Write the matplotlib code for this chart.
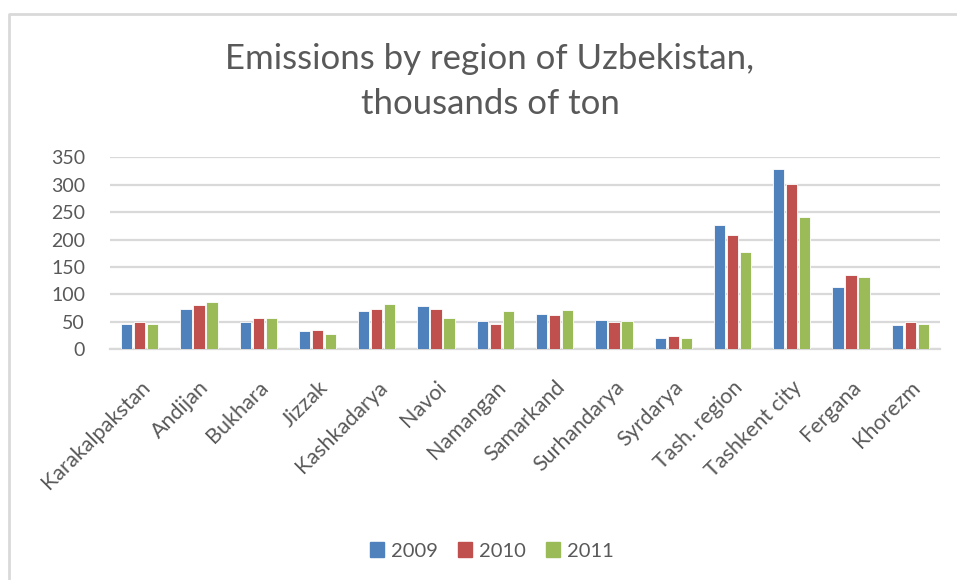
import numpy as np
import matplotlib
matplotlib.use("Agg")
import matplotlib.pyplot as plt
from matplotlib.lines import Line2D

regions = ["Karakalpakstan", "Andijan", "Bukhara", "Jizzak", "Kashkadarya",
           "Navoi", "Namangan", "Samarkand", "Surhandarya", "Syrdarya",
           "Tash. region", "Tashkent city", "Fergana", "Khorezm"]
y2009 = [47, 73, 50, 33, 69, 79, 52, 65, 54, 21, 226, 329, 113, 45]
y2010 = [49, 80, 57, 36, 74, 74, 47, 63, 49, 24, 209, 302, 136, 50]
y2011 = [47, 86, 57, 27, 82, 57, 69, 72, 52, 21, 177, 242, 131, 46]
years = ["2009", "2010", "2011"]
colors = ["#4F81BD", "#C0504D", "#9BBB59"]

txt = "#595959"
grid = "#D9D9D9"
plt.rcParams['font.family'] = ['Lato', 'DejaVu Sans']

fig = plt.figure(figsize=(9.57, 5.8), dpi=100)
ax = fig.add_axes([110/957, 1-349.3/580, 830/957, 192/580])

x = np.arange(len(regions))
w = 0.19
step = 0.22
for i, (vals, c) in enumerate(zip([y2009, y2010, y2011], colors)):
    ax.bar(x + (i-1)*step, vals, width=w, color=c, edgecolor="white",
           linewidth=0.6, zorder=3)

ax.set_xlim(-0.5, len(regions)-0.5)
ax.set_ylim(0, 350)
ax.set_yticks(range(0, 351, 50))
ax.yaxis.grid(True, color=grid, linewidth=1.6, zorder=0)
for s in ["top", "right", "left"]:
    ax.spines[s].set_visible(False)
ax.spines["bottom"].set_color(grid)
ax.spines["bottom"].set_linewidth(1.6)
ax.tick_params(axis="y", length=0, colors=txt, labelsize=14, pad=18)
ax.tick_params(axis="x", length=0, colors=txt, labelsize=15.5, pad=20)
ax.set_xticks(x)
ax.set_xticklabels(regions, rotation=45, ha="right", rotation_mode="anchor")

fig.text(490/957, 1-82/580, "Emissions by region of Uzbekistan,\nthousands of ton",
         ha="center", va="center", fontsize=25, color=txt, linespacing=1.5)

handles = [plt.Rectangle((0, 0), 1, 1, color=c) for c in colors]
fig.legend(handles, years, loc="center", bbox_to_anchor=(492/957, 1-551/580),
           ncol=3, frameon=False, fontsize=14.5, labelcolor=txt,
           handlelength=0.7, handleheight=0.7, handletextpad=0.35,
           columnspacing=1.0)

fig.add_artist(Line2D([9/957, 9/957, 1], [0, 1-14/580, 1-14/580],
                      transform=fig.transFigure, color=grid, linewidth=2))

fig.savefig("out.png", dpi=100)
